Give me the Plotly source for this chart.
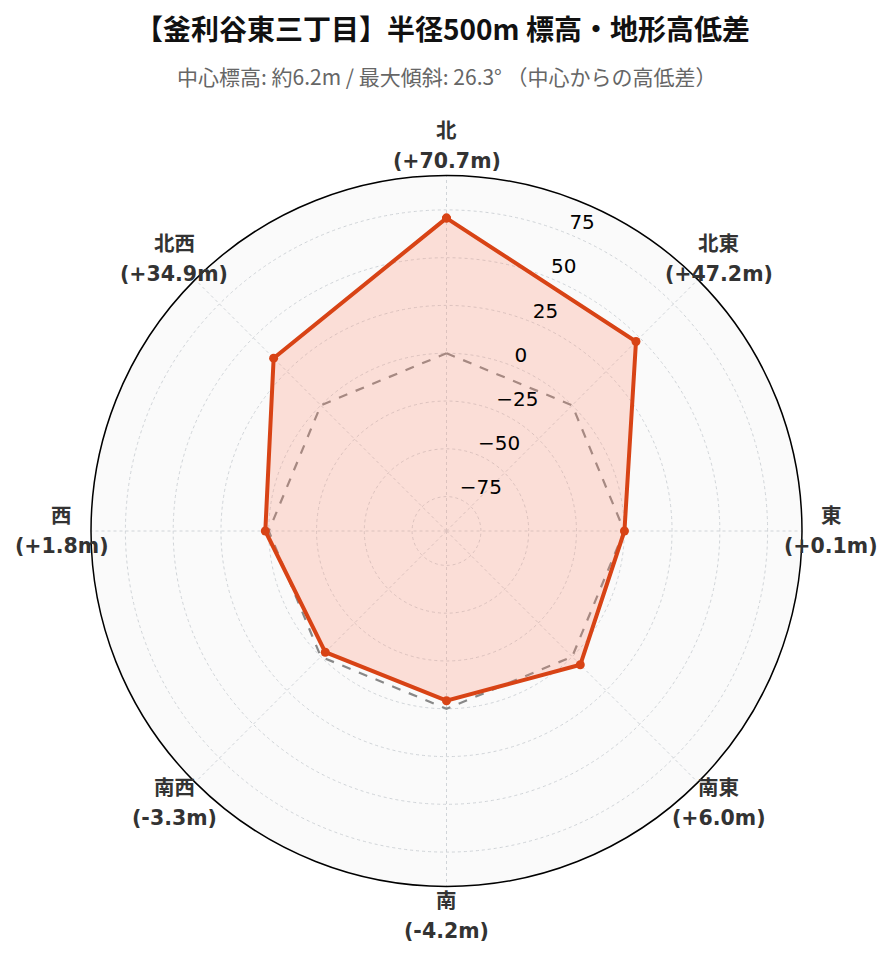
import math
import plotly.graph_objects as go

directions = ["北", "北東", "東", "南東", "南", "南西", "西", "北西"]
diffs = [70.7, 47.2, 0.1, 6.0, -4.2, -3.3, 1.8, 34.9]
zero_ref = [0, 0, 0, 0, 0, 0, 0, 0]
radial_ticks = [-75, -50, -25, 0, 25, 50, 75]
radial_tick_labels = ["−75", "−50", "−25", "0", "25", "50", "75"]
title_text = "【釜利谷東三丁目】半径500m 標高・地形高低差"
subtitle_text = "中心標高: 約6.2m / 最大傾斜: 26.3° （中心からの高低差）"
radial_range = [-93, 93]
tick_label_angle = 22.5

W, H = 893, 962
ML, MR, MT, MB = 83, 99, 167, 83
PW, PH = W - ML - MR, H - MT - MB
label_dist = 385 / 355.5  # label distance relative to polar radius

def fmt(v):
    return f"+{v:.1f}m" if v >= 0 else f"{v:.1f}m"

angles = [i * 360 / len(directions) for i in range(len(directions))]
theta_closed = angles + [angles[0]]

fig = go.Figure()
fig.add_trace(go.Scatterpolar(
    r=zero_ref + [zero_ref[0]], theta=theta_closed, mode="lines",
    line=dict(color="#888888", width=2.2, dash="dash"),
    hoverinfo="skip", showlegend=False,
))
fig.add_trace(go.Scatterpolar(
    r=diffs + [diffs[0]], theta=theta_closed, mode="lines+markers",
    fill="toself", fillcolor="rgba(255,140,110,0.25)",
    line=dict(color="#D84315", width=4),
    marker=dict(color="#D84315", size=9),
    showlegend=False,
))
fig.add_trace(go.Scatterpolar(
    r=radial_ticks, theta=[tick_label_angle] * len(radial_ticks), mode="text",
    text=radial_tick_labels, textposition="top right",
    textfont=dict(family="DejaVu Sans", size=20, color="black"),
    hoverinfo="skip", showlegend=False, cliponaxis=False,
))

# direction labels placed around the polar circle
radius_px = min(PW, PH) / 2
cx, cy = ML + PW / 2, MT + PH / 2
annotations = []
lab_font = dict(family="DejaVu Sans, Noto Sans CJK JP", size=20.5, color="#333333")
for d, v, a in zip(directions, diffs, angles):
    t = math.radians(a)
    px = cx + radius_px * label_dist * math.sin(t)
    py = cy - radius_px * label_dist * math.cos(t)
    for txt, dy in ((f"<b>{d}</b>", -15), (f"<b>({fmt(v)})</b>", 15)):
        annotations.append(dict(
            text=txt, x=(px - ML) / PW, y=(H - MB - (py + dy)) / PH,
            xref="paper", yref="paper", showarrow=False,
            xanchor="center", yanchor="middle", font=lab_font,
        ))

annotations += [
    dict(text=f"<b>{title_text}</b>", x=(434 - ML) / PW, y=(H - MB - 20) / PH, xref="paper", yref="paper",
         showarrow=False, xanchor="center", yanchor="middle", borderpad=0,
         font=dict(family="Noto Sans CJK JP", size=28, color="#111111")),
    dict(text=subtitle_text, x=0.5, y=(H - MB - 68) / PH, xref="paper", yref="paper",
         showarrow=False, xanchor="center", yanchor="middle",
         font=dict(family="Noto Sans CJK JP", size=21, color="#666666")),
]

fig.update_layout(
    width=W, height=H,
    paper_bgcolor="white",
    margin=dict(l=ML, r=MR, t=MT, b=MB, autoexpand=False),
    showlegend=False,
    polar=dict(
        bgcolor="#fafafa",
        domain=dict(x=[0, 1], y=[0, 1]),
        angularaxis=dict(
            direction="clockwise", rotation=90,
            tickvals=angles, showticklabels=False,
            showline=True, linecolor="black", linewidth=1.5,
            showgrid=True, gridcolor="#d0d4d8", griddash="dot", gridwidth=1,
            ticks="",
        ),
        radialaxis=dict(
            range=radial_range, tickvals=radial_ticks, showticklabels=False,
            showline=False, ticks="",
            showgrid=True, gridcolor="#d0d4d8", griddash="dot", gridwidth=1,
        ),
    ),
    annotations=annotations,
)

fig.write_html("out.html")
